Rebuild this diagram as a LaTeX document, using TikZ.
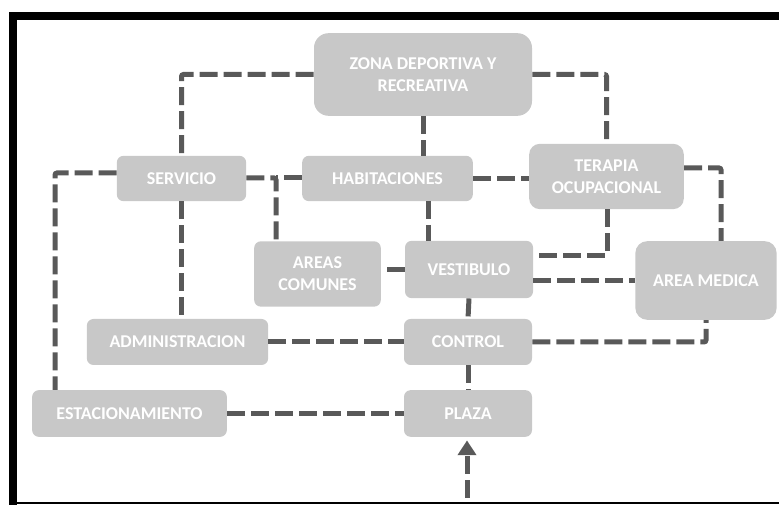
\documentclass[tikz,border=0pt]{standalone}
\usepackage{fontspec}
\setmainfont{Carlito}
\usetikzlibrary{arrows.meta}

\definecolor{boxgray}{HTML}{C8C8C8}
\definecolor{linegray}{HTML}{595959}

\begin{document}
\begin{tikzpicture}[
  x=0.75pt, y=-0.75pt,
  font=\fontsize{13.5}{16.5}\selectfont\bfseries,
  box/.style={fill=boxgray, text=white, rounded corners=5pt, inner sep=0pt, align=center},
  link/.style={draw=linegray, line width=3.75pt, dash pattern=on 13.5pt off 4.5pt, rounded corners=1.5pt}
]
\useasboundingbox (0,0) rectangle (779,505);

% frame
\fill[black] (9,12) rectangle (779,20);
\fill[black] (9,12) rectangle (17,505);
\fill[black] (9,502) rectangle (779,504);

% Zona deportiva y recreativa
\node[box, minimum width=163.5pt, minimum height=62pt, rounded corners=11pt] (zona) at (423,74.5) {ZONA DEPORTIVA Y\\RECREATIVA};

% Servicio, Habitaciones, Terapia ocupacional
\node[box, minimum width=97pt, minimum height=34pt] (serv) at (181.5,178.5) {SERVICIO};
\node[box, minimum width=128pt, minimum height=34pt] (hab) at (387.5,178.5) {HABITACIONES};
\node[box, minimum width=116pt, minimum height=49pt, rounded corners=8pt] (ter) at (606.5,176.5) {TERAPIA\\OCUPACIONAL};

% Areas comunes, Vestibulo, Area medica
\node[box, minimum width=95pt, minimum height=49pt] (areas) at (317.5,274) {AREAS\\COMUNES};
\node[box, minimum width=96pt, minimum height=43pt] (vest) at (469,269.5) {VESTIBULO};
\node[box, minimum width=106pt, minimum height=59pt, rounded corners=9pt] (med) at (706,280.5) {AREA MEDICA};

% Administracion, Control
\node[box, minimum width=136pt, minimum height=34.5pt] (adm) at (177.5,342) {ADMINISTRACION};
\node[box, minimum width=96pt, minimum height=34.5pt] (ctrl) at (468,342) {CONTROL};

% Estacionamiento, Plaza
\node[box, minimum width=146pt, minimum height=35pt] (est) at (129.5,413.5) {ESTACIONAMIENTO};
\node[box, minimum width=96pt, minimum height=35pt] (plaza) at (468,413.5) {PLAZA};

% corners of the connectors
\coordinate (c4) at (55,173);
\coordinate (j1) at (276,178);
\coordinate (hb) at (428,201);
\coordinate (c10) at (721,168);
\coordinate (c11) at (607,256);
\coordinate (entrada) at (467,498);

% connectors
\draw[link] (zona.west) -| (serv.north);
\draw[link] (zona.east) -| (ter.north);
\draw[link] (zona.south) -- (zona.south |- hab.north);
\draw[link] (serv.west |- c4) -- (c4) -- (c4 |- est.north);
\draw[link] (serv.south) -- (serv.south |- adm.north);
\draw[link] (serv.east |- j1) -- (j1) -- (j1 |- areas.north);
\draw[link] (hab.west |- j1) -- (j1);
\draw[link] (hab.east) -- (hab.east -| ter.west);
\draw[link] (hb) -- (hb |- vest.north);
\draw[link] (ter.east |- c10) -- (c10) -- (c10 |- med.north);
\draw[link] (c11 |- ter.south) -- (c11) -- (c11 -| vest.east);
\draw[link] (vest.west) -- (vest.west -| areas.east);
\draw[link] (vest.east |- med.west) -- (med.west);
\draw[link] (vest.south) -- (ctrl.north);
\draw[link] (adm.east) -- (ctrl.west);
\draw[link] (ctrl.east) -| (med.south);
\draw[link] (ctrl.south) -- (plaza.north);
\draw[link] (est.east) -- (plaza.west);
\draw[link, rounded corners=0pt, -{Triangle[width=13.5pt, length=11pt]}, shorten >=2.5pt] (entrada) -- (entrada |- plaza.south);

\end{tikzpicture}
\end{document}
